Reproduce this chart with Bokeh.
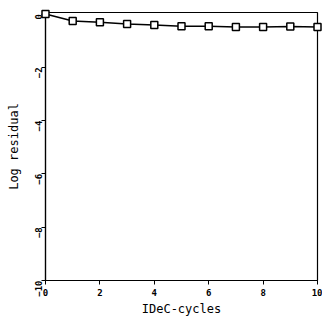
import math
from bokeh.plotting import figure
from bokeh.models import FixedTicker
from bokeh.embed import file_html
from bokeh.resources import INLINE

cycles = [0, 1, 2, 3, 4, 5, 6, 7, 8, 9, 10]
log_residual = [0.0, -0.26, -0.31, -0.37, -0.41, -0.46, -0.46, -0.48, -0.48, -0.47, -0.48]
x_ticks = [0, 2, 4, 6, 8, 10]
y_ticks = [0, -2, -4, -6, -8, -10]

FONT = "DejaVu Sans Mono"

p = figure(width=322, height=318, output_backend="svg", toolbar_location=None,
           x_range=(0, 10), y_range=(-10, 0.06),
           min_border_left=45, min_border_top=12, min_border_right=5, min_border_bottom=38)
p.xgrid.visible = False
p.ygrid.visible = False
p.outline_line_color = "black"
p.outline_line_width = 1.2
p.background_fill_color = "white"
p.border_fill_color = "white"

p.line(cycles, log_residual, line_color="black", line_width=1.5)
p.scatter(cycles, log_residual, marker="square", size=7, fill_color="white",
          line_color="black", line_width=1.5, level="overlay")

for ax in (p.xaxis[0], p.yaxis[0]):
    ax.axis_line_color = "black"
    ax.axis_line_width = 1.2
    ax.major_tick_line_color = "black"
    ax.major_tick_in = 0
    ax.major_tick_out = 4
    ax.minor_tick_line_color = None
    ax.major_label_text_font = FONT
    ax.major_label_text_font_size = "9px"
    ax.major_label_text_font_style = "bold"
    ax.major_label_text_color = "black"
    ax.axis_label_text_font = FONT
    ax.axis_label_text_font_size = "12px"
    ax.axis_label_text_font_style = "normal"
    ax.axis_label_text_color = "black"

p.xaxis.ticker = FixedTicker(ticks=x_ticks)
p.yaxis.ticker = FixedTicker(ticks=y_ticks)
p.yaxis.major_label_orientation = math.pi / 2
p.xaxis.axis_label = "IDeC-cycles"
p.yaxis.axis_label = "Log residual"
p.xaxis.axis_label_standoff = 3
p.yaxis.axis_label_standoff = 8
p.xaxis.major_label_standoff = 4
p.yaxis.major_label_standoff = 3

open("out.html", "w").write(file_html(p, INLINE))
